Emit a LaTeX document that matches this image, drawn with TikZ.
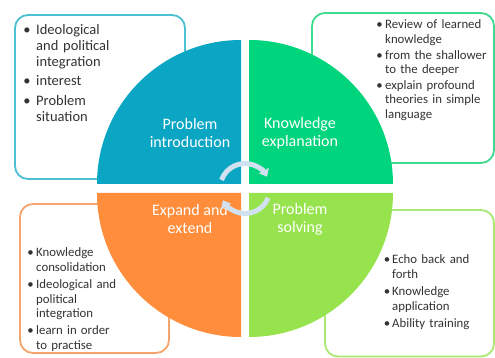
\documentclass[tikz,border=0pt]{standalone}
\usepackage{fontspec}
\setmainfont{Carlito}
\usetikzlibrary{arrows.meta,calc}
\definecolor{introfill}{HTML}{0BA6C4}
\definecolor{explainfill}{HTML}{00D47C}
\definecolor{expandfill}{HTML}{FF8D3B}
\definecolor{solvefill}{HTML}{96E34E}
\definecolor{introline}{HTML}{4DC0D4}
\definecolor{explainline}{HTML}{3EDB8F}
\definecolor{expandline}{HTML}{F5A46C}
\definecolor{solveline}{HTML}{A9E873}
\definecolor{notetext}{HTML}{333333}
\definecolor{turncol}{HTML}{D2E1EF}
\newcommand\dotitem[1][3pt]{\leavevmode\llap{\textbullet\hspace{#1}}}
\begin{document}
\begin{tikzpicture}[x=1pt,y=1pt,
		notebox/.style={line width=1.8pt,rounded corners=13pt},
		phase/.style={text=white,align=center,inner sep=0pt,font=\fontsize{16}{18}\selectfont},
		bignotes/.style={anchor=base west,text width=150pt,align=left,inner sep=0pt,text=notetext,font=\fontsize{14.5}{16}\selectfont},
		notes/.style={anchor=base west,text width=110pt,align=left,inner sep=0pt,text=notetext,font=\fontsize{12.8}{14.6}\selectfont},
		turn/.style={line width=5pt,draw=turncol,-{Triangle[width=11pt,length=7pt]}}]
	\useasboundingbox (0,0) rectangle (495,358);
	\fill[white] (0,0) rectangle (495,358);
	\draw[notebox,introline] (15,179) rectangle (185,343);
	\draw[notebox,explainline] (312,195) rectangle (494,345);
	\draw[notebox,expandline] (20,5) rectangle (169,154);
	\draw[notebox,solveline] (325,1.5) rectangle (494,148);
	\fill[introfill] (241,174) -- ++(-144,0) arc[start angle=180,end angle=90,radius=144] -- cycle;
	\fill[explainfill] (249,174) -- ++(0,144) arc[start angle=90,end angle=0,radius=144] -- cycle;
	\fill[expandfill] (241,165) -- ++(-144,0) arc[start angle=180,end angle=270,radius=144] -- cycle;
	\fill[solvefill] (249,165) -- ++(144,0) arc[start angle=0,end angle=-90,radius=144] -- cycle;
	\node[phase] (intro) at (190,225) {Problem\\introduction};
	\node[phase] (explain) at (300,225) {Knowledge\\explanation};
	\node[phase] (expand) at (190,138.5) {Expand and\\extend};
	\node[phase] (solve) at (300,138.5) {Problem\\solving};
	\coordinate (hub) at (245,169.5);
	\draw[turn] ($(hub)+(160:25)$) arc[start angle=160,end angle=28,radius=25];
	\draw[turn] ($(hub)+(-22:25)$) arc[start angle=-22,end angle=-152,radius=25];
	\node[bignotes] (intronotes) at (36,323.5) {\dotitem[5.5pt]Ideological\\and political\\integration\\[3.5pt]
		\dotitem[5.5pt]interest\\[3.5pt]
		\dotitem[5.5pt]Problem\\situation};
	\node[notes] (explainnotes) at (385,329) {\dotitem[2.5pt]Review of learned\\knowledge\\[1pt]
		\dotitem[2.5pt]from the shallower\\to the deeper\\[1pt]
		\dotitem[2.5pt]explain profound\\theories in simple\\language};
	\node[notes] (expandnotes) at (36,101) {\dotitem[2.5pt]Knowledge\\consolidation\\[2.5pt]
		\dotitem[2.5pt]Ideological and\\political\\integration\\[2.5pt]
		\dotitem[2.5pt]learn in order\\to practise};
	\node[notes] (solvenotes) at (392,94) {\dotitem[2pt]Echo back and\\forth\\[2.5pt]
		\dotitem[2pt]Knowledge\\application\\[2.5pt]
		\dotitem[2pt]Ability training};
\end{tikzpicture}
\end{document}
